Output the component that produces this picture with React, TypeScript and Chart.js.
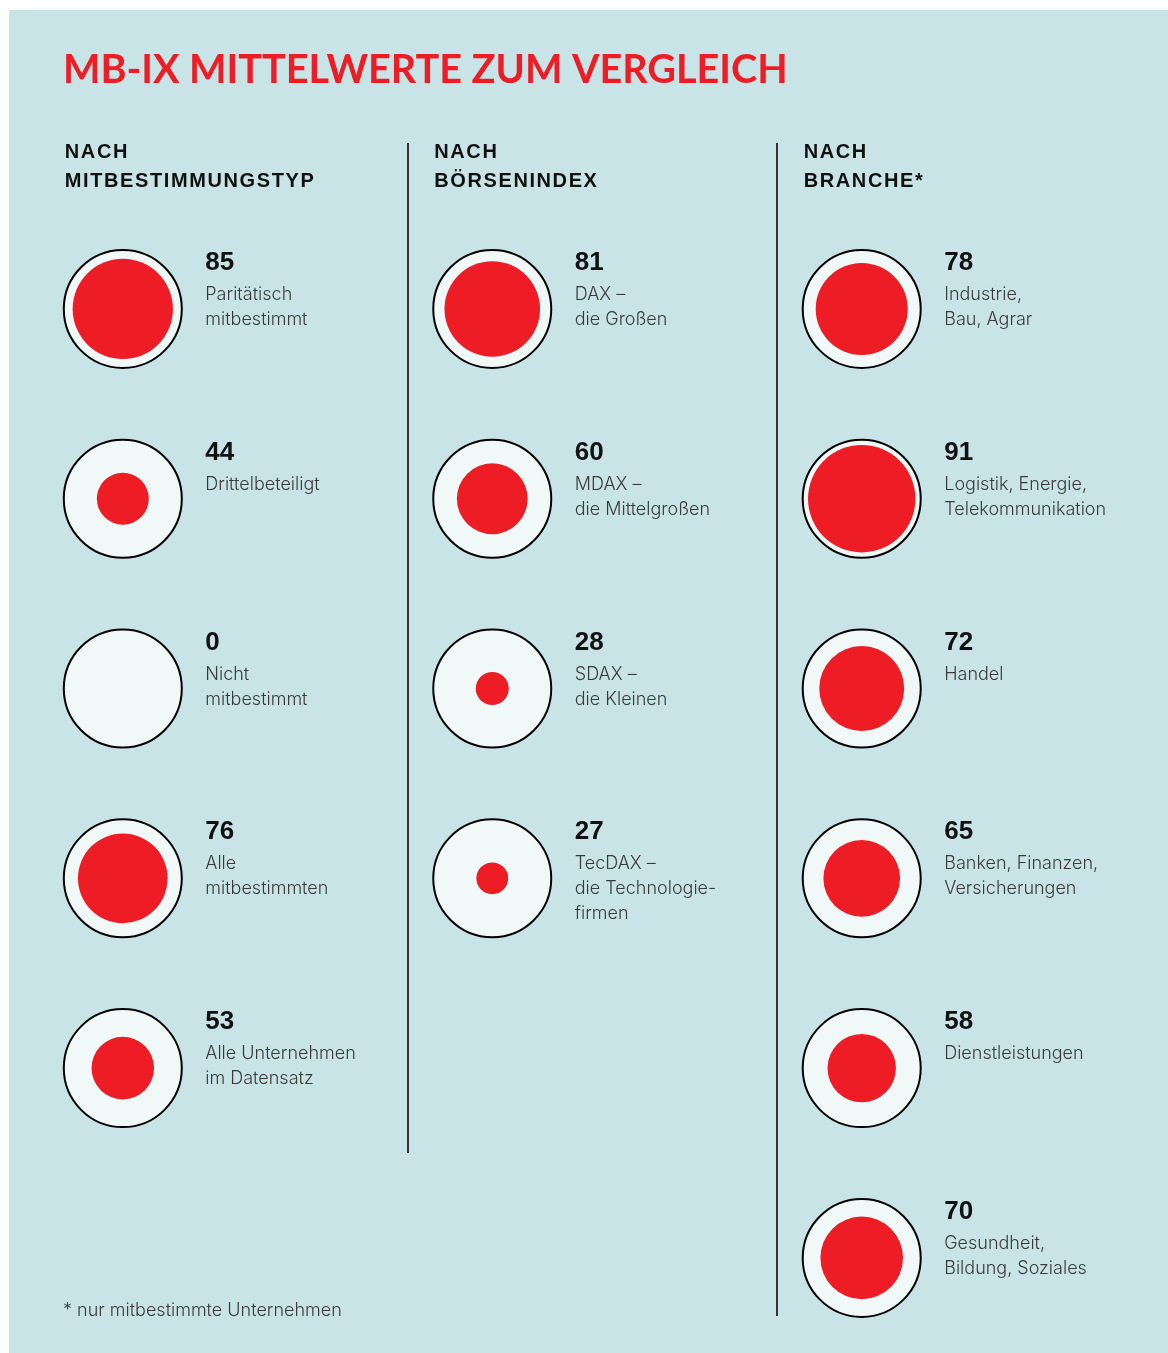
import React, { useEffect, useRef } from "react";
import { Chart, registerables } from "chart.js";

Chart.register(...registerables);

// ---------- data ----------
const TITLE = "MB-IX MITTELWERTE ZUM VERGLEICH";
const GROUP_HEADERS = [
  ["NACH", "MITBESTIMMUNGSTYP"],
  ["NACH", "BÖRSENINDEX"],
  ["NACH", "BRANCHE*"],
];
const FOOTNOTE = "* nur mitbestimmte Unternehmen";

const mitbestimmungValues = [85, 44, 0, 76, 53];
const mitbestimmungLabels = [
  ["Paritätisch", "mitbestimmt"],
  ["Drittelbeteiligt"],
  ["Nicht", "mitbestimmt"],
  ["Alle", "mitbestimmten"],
  ["Alle Unternehmen", "im Datensatz"],
];

const boersenValues = [81, 60, 28, 27];
const boersenLabels = [
  ["DAX –", "die Großen"],
  ["MDAX –", "die Mittelgroßen"],
  ["SDAX –", "die Kleinen"],
  ["TecDAX –", "die Technologie-", "firmen"],
];

const branchenValues = [78, 91, 72, 65, 58, 70];
const branchenLabels = [
  ["Industrie,", "Bau, Agrar"],
  ["Logistik, Energie,", "Telekommunikation"],
  ["Handel"],
  ["Banken, Finanzen,", "Versicherungen"],
  ["Dienstleistungen"],
  ["Gesundheit,", "Bildung, Soziales"],
];

const MAX_VALUE = 100;

// ---------- style ----------
const W = 1159;
const H = 1343;
const BG = "#c9e4e7";
const RED = "#ee1d25";
const DISC = "#f0f8f8";
const OUTER_R = 59;
const TEXT_DARK = "#111111";
const TEXT_LABEL = "#3a3a3a";

const groups = [
  { values: mitbestimmungValues, labels: mitbestimmungLabels },
  { values: boersenValues, labels: boersenLabels },
  { values: branchenValues, labels: branchenLabels },
];

const outerPoints: { x: number; y: number; r: number }[] = [];
const innerPoints: { x: number; y: number; r: number }[] = [];
const pointValues: number[] = [];
const pointLabels: string[][] = [];
groups.forEach((g, gi) => {
  g.values.forEach((v, ri) => {
    outerPoints.push({ x: gi, y: ri, r: OUTER_R });
    innerPoints.push({ x: gi, y: ri, r: (v / MAX_VALUE) * OUTER_R });
    pointValues.push(v);
    pointLabels.push(g.labels[ri]);
  });
});

const LABEL_FONT = "300 18px Inter, 'Noto Sans', sans-serif";
const NUMBER_FONT = "bold 26px 'Liberation Sans', Arial, sans-serif";
const HEADER_FONT = "bold 20px 'Liberation Sans', Arial, sans-serif";
const TITLE_FONT = "bold 39.6px Lato, 'Open Sans', sans-serif";

const textPlugin = {
  id: "infographicText",
  beforeDraw(chart: any) {
    const ctx = chart.ctx;
    ctx.save();
    ctx.fillStyle = BG;
    ctx.fillRect(0, 0, chart.width, chart.height);
    ctx.restore();
  },
  afterDatasetsDraw(chart: any) {
    const ctx: any = chart.ctx;
    const xs = chart.scales.x;
    ctx.save();
    ctx.textBaseline = "alphabetic";
    ctx.textAlign = "left";

    // title
    ctx.font = TITLE_FONT;
    ctx.fillStyle = RED;
    ctx.fillText(TITLE, 54, 73);

    // headers
    ctx.font = HEADER_FONT;
    ctx.fillStyle = TEXT_DARK;
    ctx.letterSpacing = "1.6px";
    GROUP_HEADERS.forEach((lines, gi) => {
      const cx = xs.getPixelForValue(gi);
      lines.forEach((ln, li) => {
        ctx.fillText(ln, cx - 58, 148 + li * 28.5);
      });
    });
    ctx.letterSpacing = "0px";

    // dividers
    ctx.strokeStyle = "#333333";
    ctx.lineWidth = 2;
    const dividerEnds = [1143, 1306];
    [0, 1].forEach((gi) => {
      const x = Math.round(xs.getPixelForValue(gi) + 285);
      ctx.beginPath();
      ctx.moveTo(x, 133);
      ctx.lineTo(x, dividerEnds[gi]);
      ctx.stroke();
    });

    // labels
    const meta = chart.getDatasetMeta(1);
    meta.data.forEach((el: any, i: number) => {
      const tx = el.x + 82.5;
      ctx.font = NUMBER_FONT;
      ctx.fillStyle = TEXT_DARK;
      ctx.fillText(String(pointValues[i]), tx, el.y - 39);
      ctx.font = LABEL_FONT;
      ctx.fillStyle = TEXT_LABEL;
      pointLabels[i].forEach((ln, li) => {
        ctx.fillText(ln, tx, el.y - 9 + li * 25);
      });
    });

    // footnote
    ctx.font = LABEL_FONT;
    ctx.fillStyle = TEXT_LABEL;
    ctx.fillText(FOOTNOTE, 54, 1306);
    ctx.restore();
  },
};

export default function App() {
  const ref = useRef<HTMLCanvasElement>(null);
  useEffect(() => {
    if (!ref.current) return;
    const chart = new Chart(ref.current, {
      type: "bubble",
      data: {
        datasets: [
          {
            label: "Wert",
            data: innerPoints,
            backgroundColor: RED,
            borderWidth: 0,
            hoverBorderWidth: 0,
          },
          {
            label: "Maximum",
            data: outerPoints,
            backgroundColor: DISC,
            borderColor: "#000000",
            borderWidth: 2,
            hoverBorderWidth: 2,
          },
        ],
      },
      options: {
        responsive: false,
        animation: false,
        events: [],
        devicePixelRatio: 1,
        layout: { padding: 0, autoPadding: false },
        plugins: {
          legend: { display: false },
          title: { display: false },
          tooltip: { enabled: false },
        },
        scales: {
          x: {
            type: "linear",
            display: false,
            min: -0.308,
            max: 2.829,
          },
          y: {
            type: "linear",
            display: false,
            reverse: true,
            min: -1.575,
            max: 5.501,
          },
        },
      } as any,
      plugins: [textPlugin],
    });
    return () => chart.destroy();
  }, []);
  return (
    <div
      style={{
        position: "absolute",
        left: 9,
        top: 10,
        width: W,
        height: H,
        background: BG,
      }}
    >
      <canvas ref={ref} width={W} height={H} style={{ width: W, height: H, display: "block" }} />
    </div>
  );
}
